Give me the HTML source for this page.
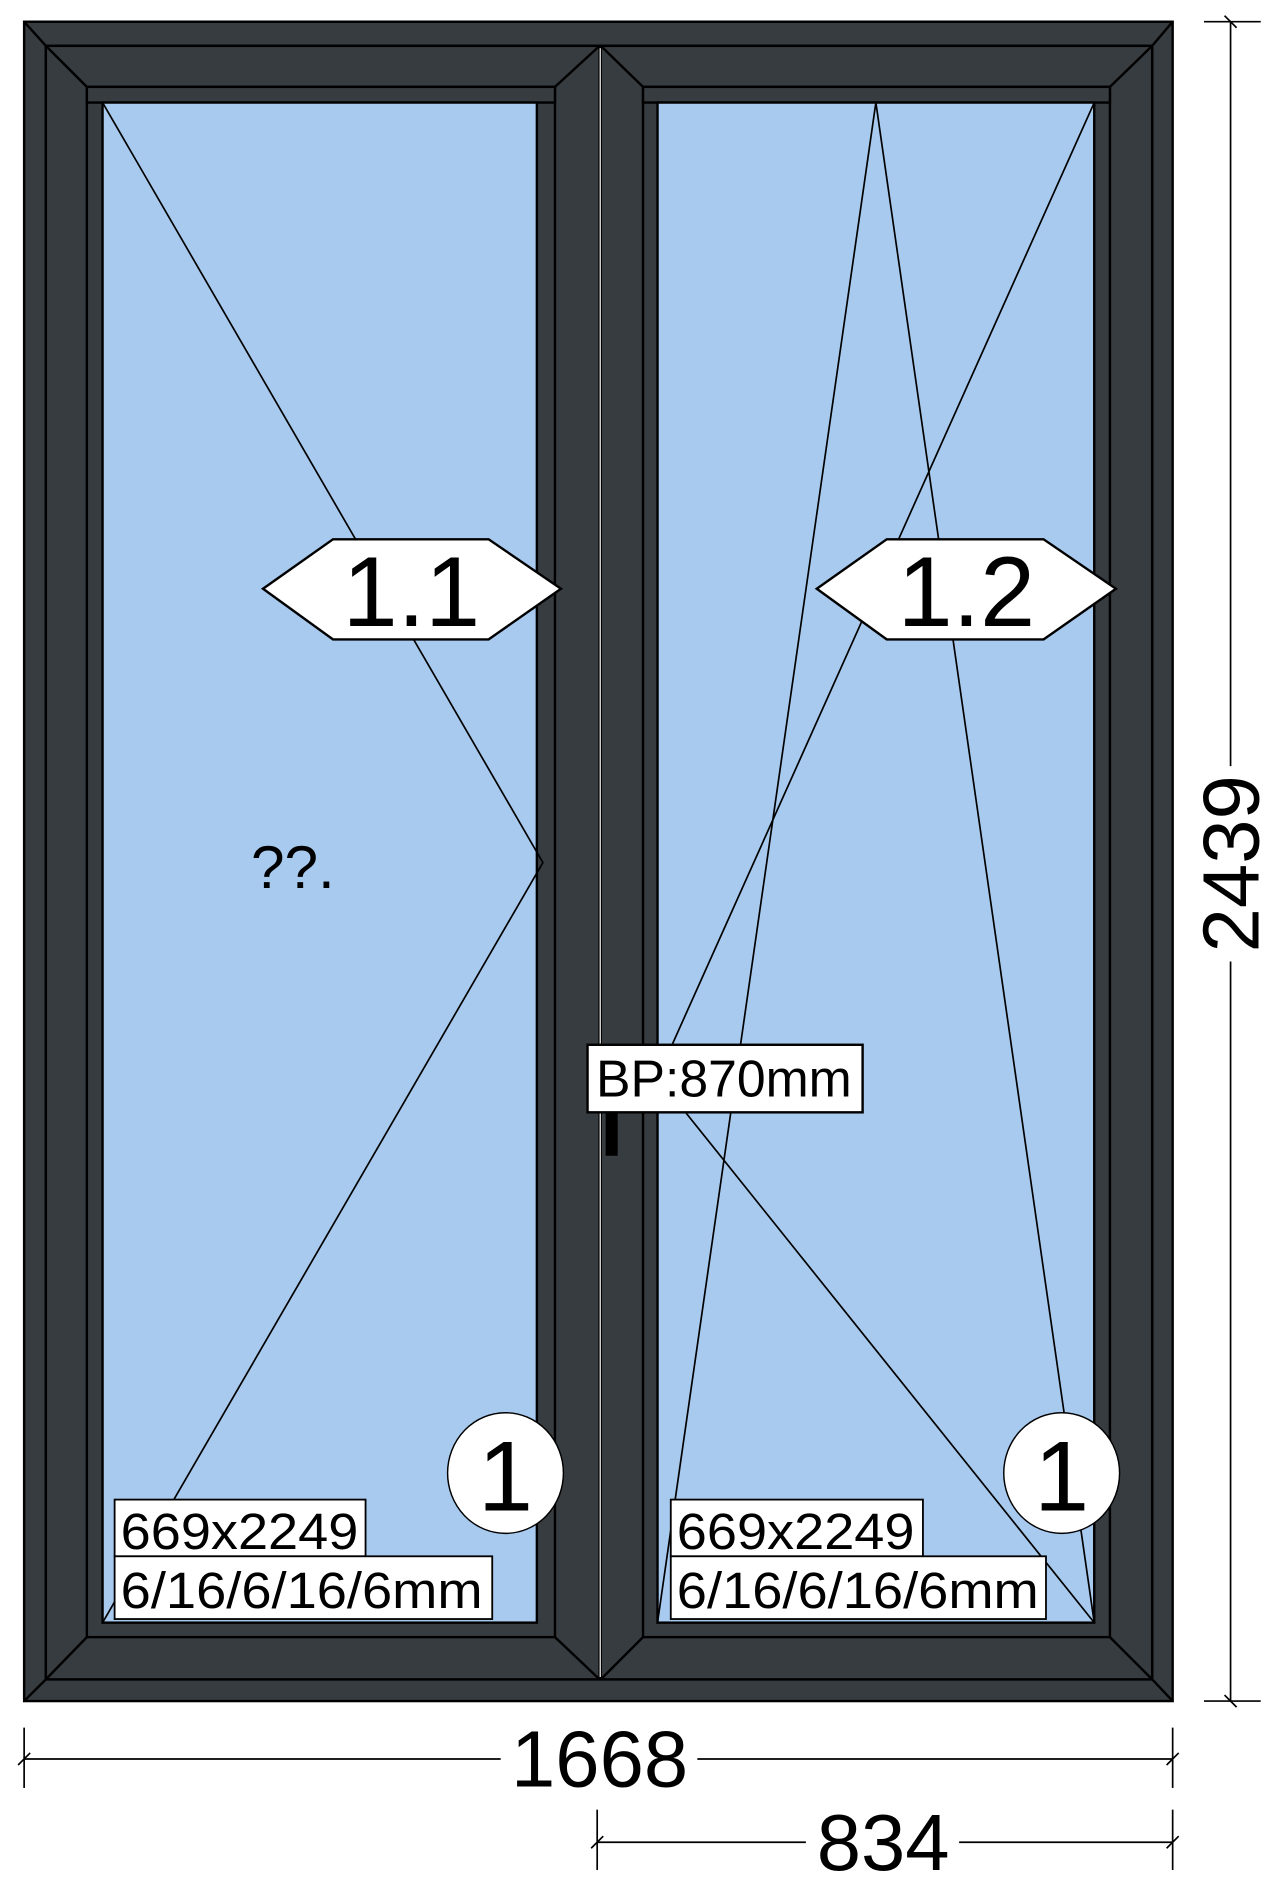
<!DOCTYPE html>
<html><head><meta charset="utf-8"><style>
html,body{margin:0;padding:0;background:#fff;width:1274px;height:1890px;overflow:hidden}
svg{display:block}
text{font-family:"Liberation Sans",Arial,sans-serif;fill:#000}
</style></head><body>
<svg width="1274" height="1890" viewBox="0 0 1056 1566.6" preserveAspectRatio="none">
<g stroke="#000" stroke-width="2" fill="#363c40">
 <rect x="20" y="18" width="952" height="1392"/>
 <rect x="38" y="38" width="917" height="1354"/>
 <line x1="20" y1="18" x2="38" y2="38"/><line x1="972" y1="18" x2="955" y2="38"/>
 <line x1="20" y1="1410" x2="38" y2="1392"/><line x1="972" y1="1410" x2="955" y2="1392"/>
 <g>
 <rect x="38" y="38" width="459" height="1354"/>
 <rect x="72" y="72" width="388" height="1285"/>
 <line x1="38" y1="38" x2="72" y2="72"/><line x1="497" y1="38" x2="460" y2="72"/>
 <line x1="38" y1="1392" x2="72" y2="1357"/><line x1="497" y1="1392" x2="460" y2="1357"/>
 <rect x="72" y="72" width="388" height="13"/>
 <rect x="85" y="85" width="360" height="1260" fill="#a8caee"/>
 </g>
 <g>
 <rect x="498" y="38" width="457" height="1354"/>
 <rect x="533" y="72" width="387" height="1285"/>
 <line x1="498" y1="38" x2="533" y2="72"/><line x1="955" y1="38" x2="920" y2="72"/>
 <line x1="498" y1="1392" x2="533" y2="1357"/><line x1="955" y1="1392" x2="920" y2="1357"/>
 <rect x="533" y="72" width="387" height="13"/>
 <rect x="545" y="85" width="362" height="1260" fill="#a8caee"/>
 </g>
</g>
<line x1="497.5" y1="40" x2="497.5" y2="1390" stroke="#fff" stroke-width="1"/>
<g stroke="#000" stroke-width="1.4" fill="none">
 <polyline points="85,85 450,715 85,1345"/>
 <polyline points="545,1345 726,85 907,1345"/>
 <polyline points="907,85 545,893 907,1345"/>
</g>
<rect x="502" y="916" width="10" height="42" fill="#000"/>
<g>
 <polygon points="218,488 276,447 405,447 465,488 405,530 276,530" fill="#fff" stroke="#000" stroke-width="2"/>
 <text x="341" y="519" font-size="82" text-anchor="middle">1.1</text>
</g>
<g>
 <polygon points="677,488 735,447 865,447 925,488 865,530 735,530" fill="#fff" stroke="#000" stroke-width="2"/>
 <text x="801" y="519" font-size="82" text-anchor="middle">1.2</text>
</g>
<text x="208" y="736" font-size="50">??.</text>
<g>
 <rect x="487" y="866" width="228" height="56" fill="#fff" stroke="#000" stroke-width="2"/>
 <text x="494" y="909" font-size="43" textLength="212" lengthAdjust="spacingAndGlyphs">BP:870mm</text>
</g>
<g>
 <ellipse cx="419" cy="1221" rx="48" ry="50" fill="#fff" stroke="#000" stroke-width="1.2"/>
 <text x="419" y="1252" font-size="82" text-anchor="middle">1</text>
</g>
<g>
 <ellipse cx="880" cy="1221" rx="48" ry="50" fill="#fff" stroke="#000" stroke-width="1.2"/>
 <text x="880" y="1252" font-size="82" text-anchor="middle">1</text>
</g>
<g stroke="#000" stroke-width="1.5">
 <rect x="95" y="1243" width="208" height="47" fill="#fff"/>
 <rect x="95" y="1290" width="313" height="52" fill="#fff"/>
 <text x="100" y="1284" font-size="42" stroke="none" textLength="197" lengthAdjust="spacingAndGlyphs">669x2249</text>
 <text x="100" y="1333" font-size="42" stroke="none" textLength="300" lengthAdjust="spacingAndGlyphs">6/16/6/16/6mm</text>
</g>
<g stroke="#000" stroke-width="1.5">
 <rect x="556" y="1243" width="209" height="47" fill="#fff"/>
 <rect x="556" y="1290" width="311" height="52" fill="#fff"/>
 <text x="561" y="1284" font-size="42" stroke="none" textLength="197" lengthAdjust="spacingAndGlyphs">669x2249</text>
 <text x="561" y="1333" font-size="42" stroke="none" textLength="300" lengthAdjust="spacingAndGlyphs">6/16/6/16/6mm</text>
</g>
<g stroke="#000" stroke-width="1.4">
 <line x1="20" y1="1432" x2="20" y2="1482"/><line x1="972" y1="1432" x2="972" y2="1482"/>
 <line x1="20" y1="1458" x2="415" y2="1458"/><line x1="578" y1="1458" x2="972" y2="1458"/>
 <line x1="15" y1="1463" x2="25" y2="1453"/><line x1="967" y1="1463" x2="977" y2="1453"/>
 <text x="497" y="1481" font-size="66" text-anchor="middle" stroke="none">1668</text>
</g>
<g stroke="#000" stroke-width="1.4">
 <line x1="495" y1="1500" x2="495" y2="1550"/><line x1="972" y1="1500" x2="972" y2="1550"/>
 <line x1="495" y1="1527" x2="668" y2="1527"/><line x1="795" y1="1527" x2="972" y2="1527"/>
 <line x1="490" y1="1532" x2="500" y2="1522"/><line x1="967" y1="1532" x2="977" y2="1522"/>
 <text x="732" y="1550" font-size="66" text-anchor="middle" stroke="none">834</text>
</g>
<g stroke="#000" stroke-width="1.4">
 <line x1="998" y1="18" x2="1045" y2="18"/><line x1="998" y1="1410" x2="1045" y2="1410"/>
 <line x1="1020" y1="18" x2="1020" y2="635"/><line x1="1020" y1="797" x2="1020" y2="1410"/>
 <line x1="1015" y1="13" x2="1025" y2="23"/><line x1="1015" y1="1405" x2="1025" y2="1415"/>
 <text x="0" y="0" font-size="66" text-anchor="middle" stroke="none" transform="translate(1043,716) rotate(-90)">2439</text>
</g>
</svg>
</body></html>
